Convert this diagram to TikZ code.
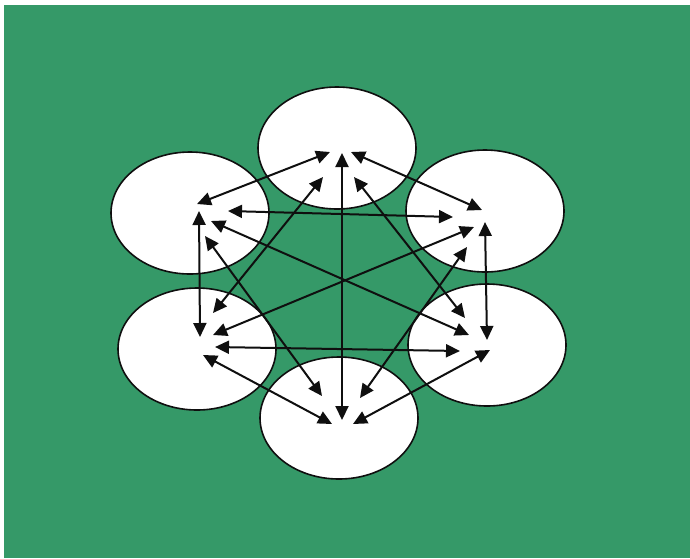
\documentclass[tikz,border=0pt]{standalone}
\usetikzlibrary{arrows.meta,shapes.geometric}
\definecolor{bg}{RGB}{53,153,104}
\definecolor{ink}{RGB}{15,15,15}
\begin{document}
\begin{tikzpicture}[x=1pt,y=-1pt,
  blob/.style={ellipse,draw=ink,line width=1.6pt,fill=white,minimum width=158pt,minimum height=122pt,inner sep=0pt},
  link/.style={draw=ink,line width=2pt,{Triangle[length=14pt,width=13pt]}-{Triangle[length=14pt,width=13pt]}}]
\useasboundingbox (0,0) rectangle (690,558);
\fill[bg] (4,5) rectangle (690,558);
% circles
\node[blob] (T)  at (337,148) {};
\node[blob] (UL) at (190,213) {};
\node[blob] (UR) at (485,211) {};
\node[blob] (LL) at (197,349) {};
\node[blob] (LR) at (487,345) {};
\node[blob] (B)  at (339,418) {};
% end points
\coordinate (t1) at (330,152);
\coordinate (t2) at (342,153);
\coordinate (t3) at (351,152);
\coordinate (t4) at (323,177);
\coordinate (t5) at (354,177);
\coordinate (ul1) at (197,204);
\coordinate (ul2) at (228,211);
\coordinate (ul3) at (199,211);
\coordinate (ul4) at (211,221);
\coordinate (ul5) at (205,236);
\coordinate (ur1) at (482,210);
\coordinate (ur2) at (453,217);
\coordinate (ur3) at (485,222);
\coordinate (ur4) at (474,227);
\coordinate (ur5) at (467,247);
\coordinate (ll1) at (213,313);
\coordinate (ll2) at (200,337);
\coordinate (ll3) at (213,335);
\coordinate (ll4) at (215,347);
\coordinate (ll5) at (203,355);
\coordinate (lr1) at (465,318);
\coordinate (lr2) at (469,335);
\coordinate (lr3) at (487,340);
\coordinate (lr4) at (460,351);
\coordinate (lr5) at (490,350);
\coordinate (b1) at (322,396);
\coordinate (b2) at (360,398);
\coordinate (b3) at (342,420);
\coordinate (b4) at (332,424);
\coordinate (b5) at (353,424);
% connectors
\draw[link] (t1) -- (ul1);
\draw[link] (t2) -- (b3);
\draw[link] (t3) -- (ur1);
\draw[link] (t4) -- (ll1);
\draw[link] (t5) -- (lr1);
\draw[link] (ul2) -- (ur2);
\draw[link] (ul3) -- (ll2);
\draw[link] (ul4) -- (lr2);
\draw[link] (ul5) -- (b1);
\draw[link] (ur3) -- (lr3);
\draw[link] (ur4) -- (ll3);
\draw[link] (ur5) -- (b2);
\draw[link] (ll4) -- (lr4);
\draw[link] (ll5) -- (b4);
\draw[link] (lr5) -- (b5);
\end{tikzpicture}
\end{document}
